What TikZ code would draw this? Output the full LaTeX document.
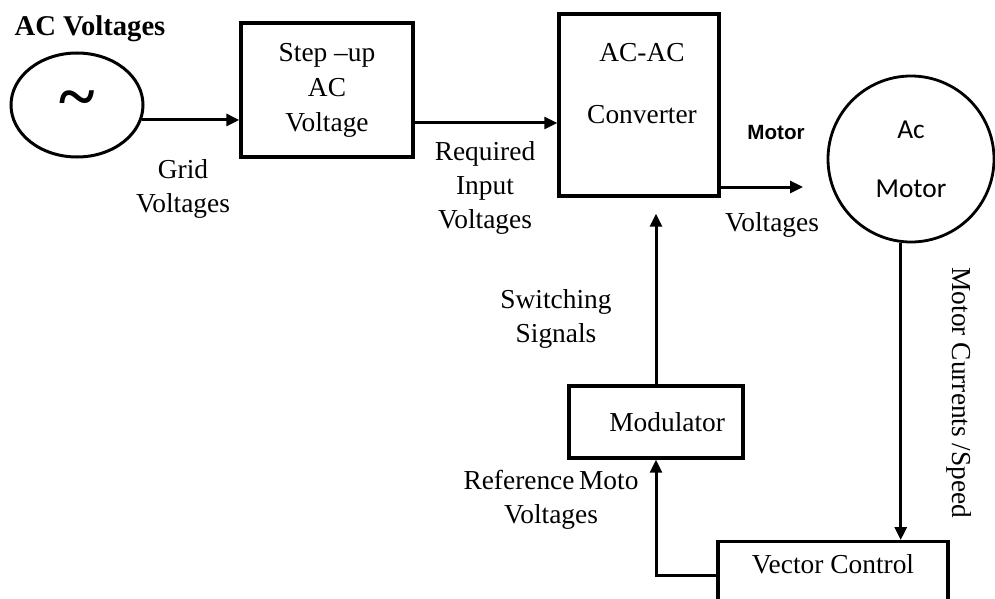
\documentclass[tikz,border=0pt]{standalone}
\usepackage{amsmath}
\usepackage{fontspec}
\setmainfont{Liberation Serif}
\newfontfamily\motorsans{Carlito}
\newfontfamily\tagsans{Liberation Sans}
\usetikzlibrary{arrows.meta, shapes.geometric}

\begin{document}
\begin{tikzpicture}[
    x=0.5pt, y=-0.5pt,
    >={Triangle[length=6.5pt, width=6pt]},
    arr/.style={->, line width=1.5pt},
    box/.style={draw, line width=1.7pt, inner sep=0pt, font=\fontsize{13.7}{17.5}\selectfont},
    lbl/.style={align=center, inner sep=0pt, font=\fontsize{13.7}{17}\selectfont},
]
\useasboundingbox (0,0) rectangle (995,599);
\clip (0,0) rectangle (995,599);
% === Source ===
\node[lbl, font=\fontsize{14.3}{17}\selectfont\bfseries] (acv) at (90,29) {AC Voltages};
\node[draw, ellipse, line width=1.5pt, minimum width=66pt, minimum height=52pt, inner sep=0pt, font=\fontsize{34}{34}\selectfont\bfseries] (src) at (77,105) {\raisebox{-4pt}{\textasciitilde}};
% === Step-up and converter ===
\node[box, align=center, minimum width=86pt, minimum height=67pt] (stepup) at (327,90) {Step --up\\AC\\Voltage};
\node[box, minimum width=80pt, minimum height=91pt] (acac) at (639,105) {};
\node[lbl, font=\fontsize{13.7}{31}\selectfont] (acactxt) at (642,84) {AC-AC\\Converter};
% === Motor ===
\node[draw, circle, line width=1.4pt, minimum size=83pt, inner sep=0pt, align=center, font=\motorsans\fontsize{13.7}{29.5}\selectfont] (motor) at (911,159) {Ac\\Motor};
% === Control loop ===
\node[box, minimum width=87pt, minimum height=36pt, text width=69pt, inner xsep=9pt, align=right] (mod) at (656,422) {Modulator};
\node[box, anchor=north, minimum width=115pt, text height=9.5pt, text depth=40pt, inner ysep=6.5pt] (vc) at (833,540) {Vector Control};
% === Connectors ===
\draw[arr] (src.-13) -- (src.-13 -| stepup.west);
\coordinate (su-out) at ([yshift=-16.5pt]stepup.east);
\draw[arr] (su-out) -- (su-out -| acac.west);
\coordinate (cv-out) at ([yshift=-41pt]acac.east);
\coordinate (mv-end) at (803,187);
\draw[arr] (cv-out) -- (mv-end);
\draw[arr] (motor.-97) -- (motor.-97 |- vc.north);
\coordinate (vc-out) at ([yshift=-17.5pt]vc.north west);
\draw[arr] (vc-out) -| (mod.south);
\draw[arr, shorten >=8pt] (mod.north) -- (mod.north |- acac.south);
% === Labels ===
\node[lbl] (grid) at (183,189) {Grid\\Voltages};
\node[lbl] (reqin) at (485,188) {Required\\Input\\Voltages};
\node[lbl, font=\tagsans\bfseries\fontsize{10.3}{12}\selectfont] (mlbl) at (776,133) {Motor};
\node[lbl] (mvolt) at (772,225) {Voltages};
\node[lbl] (sw) at (556,319) {Switching\\Signals};
\node[lbl] (refv) at (551,500) {Reference\,Moto\\Voltages};
\node[lbl, rotate=-90] (cur) at (959,393) {Motor Currents /Speed};
\end{tikzpicture}
\end{document}
